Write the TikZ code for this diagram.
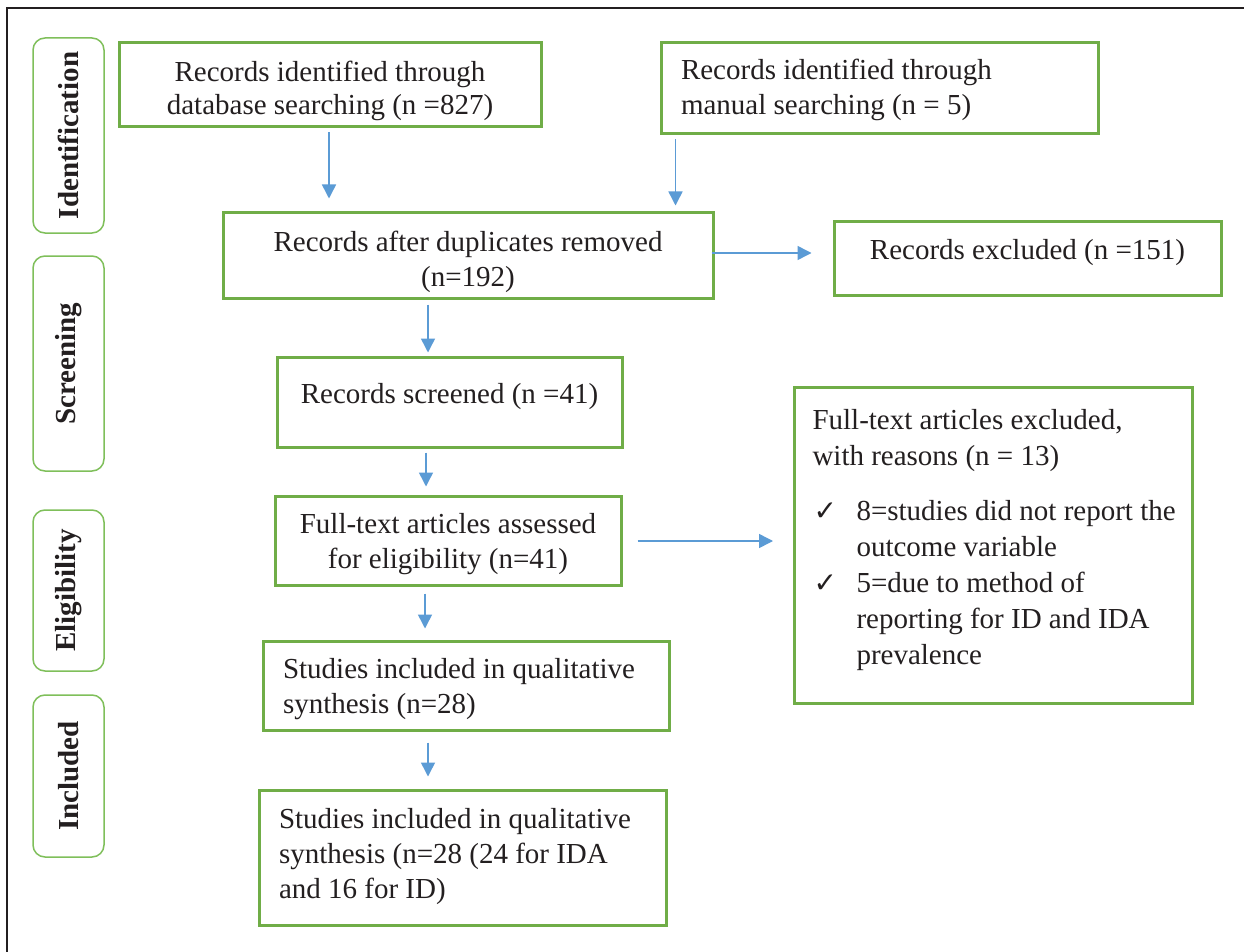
\documentclass[tikz,border=0pt]{standalone}
\usepackage{fontspec}
\setmainfont{Liberation Serif}
\newfontfamily\symfont{DejaVu Sans}
\usetikzlibrary{arrows.meta,calc}
\definecolor{boxgreen}{HTML}{70AD47}
\definecolor{sidegreen}{HTML}{7FBF5A}
\definecolor{arrowblue}{HTML}{5B9BD5}
\definecolor{inkcol}{HTML}{231F20}
\newcommand\fsz{\fontsize{29pt}{35pt}\selectfont}
\newcommand\tick{\makebox[62pt][l]{\hspace*{19pt}{\fontsize{28pt}{28pt}\symfont\bfseries ✓}}}
% text block: column type, vertical raise, lines
\newcommand\tx[3]{\raisebox{#2}[\height][\depth]{\begin{tabular}{@{}#1@{}}#3\end{tabular}}}
% left-aligned text block of given width
\newcommand\lx[3]{\makebox[#1][l]{\tx{l}{#2}{#3}}}
\begin{document}
\begin{tikzpicture}[x=1pt,y=-1pt,
  box/.style={draw=boxgreen, line width=3pt, inner sep=0pt, font=\fsz, text=inkcol},
  side/.style={draw=sidegreen, line width=1.5pt, rounded corners=12pt, rotate=90, inner sep=0pt,
    font=\fsz\bfseries, text=inkcol, minimum height=71pt},
  arr/.style={draw=arrowblue, line width=1.5pt, -{Triangle[length=14pt,width=14pt]}}]
\useasboundingbox (0,0) rectangle (1244,952);
\fill[white] (0,0) rectangle (1244,952);
\draw[line width=2pt, inkcol] (1244,8) -- (7,8) -- (7,952);

% side labels
\node[side, minimum width=195pt] (s1) at (68.5,135.5) {Identification};
\node[side, minimum width=215pt] (s2) at (68.5,363.5) {Screening};
\node[side, minimum width=161pt] (s3) at (68.5,590.5) {Eligibility};
\node[side, minimum width=162pt] (s4) at (68.5,776) {Included};

% boxes
\node[box, font=\fontsize{29pt}{33pt}\selectfont, minimum width=422pt, minimum height=84pt] (A) at (330,85)
  {\tx{c}{-6pt}{Records identified through\\database searching (n =827)}};
\node[box, minimum width=437pt, minimum height=91pt] (B) at (879.5,88.5)
  {\lx{397pt}{-2pt}{Records identified through\\manual searching (n = 5)}};
\node[box, minimum width=490pt, minimum height=86pt] (C) at (468,255)
  {\tx{c}{-7pt}{Records after duplicates removed\\(n=192)}};
\node[box, minimum width=387pt, minimum height=74pt] (D) at (1027.5,258)
  {\tx{c}{6pt}{Records excluded (n =151)}};
\node[box, minimum width=345pt, minimum height=90pt] (E) at (449.5,402)
  {\tx{c}{6pt}{Records screened (n =41)}};
\node[box, minimum width=346pt, minimum height=89pt] (F) at (448,540.5)
  {\tx{c}{-3.5pt}{Full-text articles assessed\\for eligibility (n=41)}};
\node[box] (G) at (993.5,545.5)
  {\parbox[c][316pt][t]{398pt}{\fontsize{29pt}{36pt}\selectfont\vspace*{22pt}%
   \hspace*{18pt}Full-text articles excluded,\\
   \hspace*{18pt}with reasons (n = 13)\\[19pt]
   \tick 8=studies did not report the\\
   \hspace*{62pt}outcome variable\\
   \tick 5=due to method of\\
   \hspace*{62pt}reporting for ID and IDA\\
   \hspace*{62pt}prevalence}};
\node[box, minimum width=406pt, minimum height=89pt] (H) at (466,685.5)
  {\lx{366pt}{-3.5pt}{Studies included in qualitative\\synthesis (n=28)}};
\node[box, minimum width=407pt, minimum height=135pt] (I) at (462.5,857.5)
  {\lx{367pt}{1pt}{Studies included in qualitative\\synthesis (n=28 (24 for IDA\\and 16 for ID)}};

% connectors
\draw[arr] ($(A.south)+(-1,4)$) -- ($(A.south |- C.north)+(-1,-12)$);
\draw[arr] ($(B.south west)+(16,4)$) -- ($(B.south west |- C.north)+(16,-5)$);
\draw[arr] ($(C.east)+(-3,-2)$) -- ($(C.east -| D.west)+(-21,-2)$);
\draw[arr] ($(C.south)+(-40,5)$) -- ($(C.south |- E.north)+(-40,-3)$);
\draw[arr] ($(E.south)+(-23.5,4)$) -- ($(E.south |- F.north)+(-23.5,-8)$);
\draw[arr] ($(F.east)+(15,0.5)$) -- ($(F.east -| G.west)+(-20,0.5)$);
\draw[arr] ($(F.south)+(-23,7)$) -- ($(F.south |- H.north)+(-23,-11)$);
\draw[arr] ($(H.south)+(-38,11)$) -- ($(H.south |- I.north)+(-38,-12)$);
\end{tikzpicture}
\end{document}
